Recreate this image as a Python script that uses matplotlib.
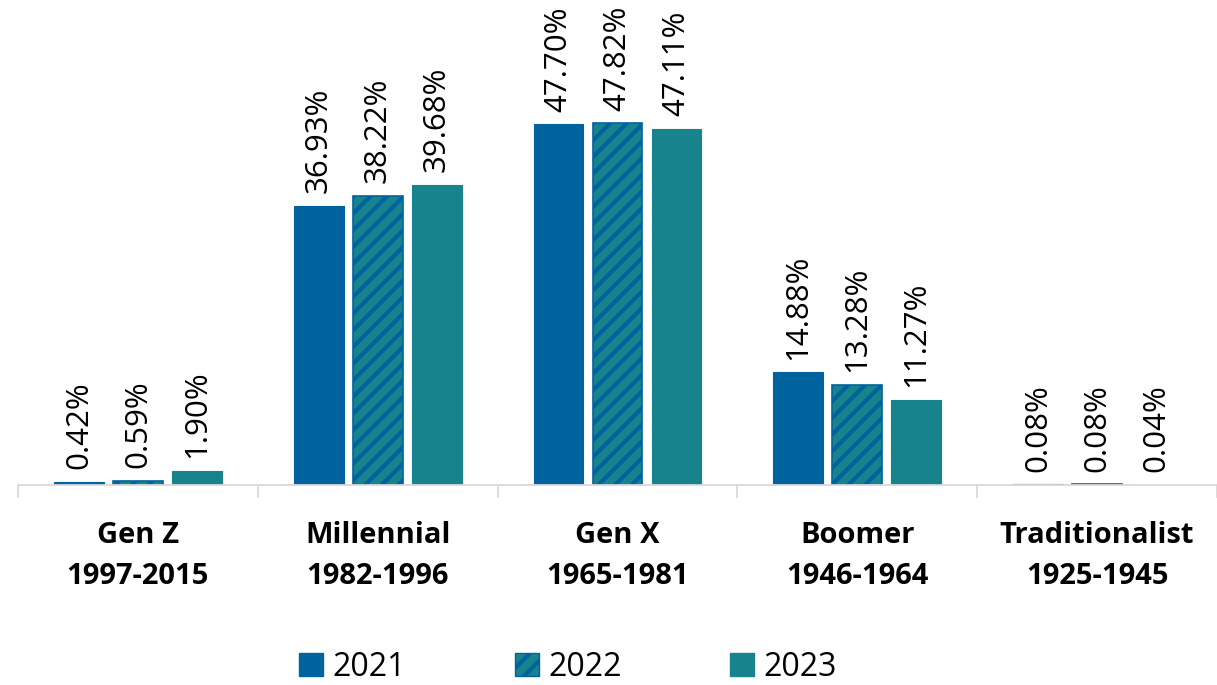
import numpy as np
import matplotlib.pyplot as plt
from matplotlib.patches import Patch

plt.rcParams['font.family'] = ['Open Sans', 'DejaVu Sans']
plt.rcParams['hatch.linewidth'] = 3.0

categories = ['Gen Z\n1997-2015', 'Millennial\n1982-1996', 'Gen X\n1965-1981',
              'Boomer\n1946-1964', 'Traditionalist\n1925-1945']
years = ['2021', '2022', '2023']
vals_2021 = [0.42, 36.93, 47.70, 14.88, 0.08]
vals_2022 = [0.59, 38.22, 47.82, 13.28, 0.08]
vals_2023 = [1.90, 39.68, 47.11, 11.27, 0.04]

blue = '#00639E'
teal = '#17838C'

fig = plt.figure(figsize=(12.17, 6.85), dpi=100)
ax = fig.add_axes([18 / 1217, 200 / 685, 1199 / 1217, 485 / 685])

x = np.arange(len(categories))
w = 0.208
off = 0.246

b1 = ax.bar(x - off, vals_2021, w, color=blue, edgecolor=blue, linewidth=0.8)
b2 = ax.bar(x, vals_2022, w, color=teal, edgecolor=blue, linewidth=1.2, hatch='//')
b3 = ax.bar(x + off, vals_2023, w, color=teal, edgecolor=teal, linewidth=0.8)

for bars, vals in [(b1, vals_2021), (b2, vals_2022), (b3, vals_2023)]:
    for rect, v in zip(bars, vals):
        ax.annotate(f'{v:.2f}%', (rect.get_x() + rect.get_width() / 2, rect.get_height()),
                    xytext=(0, 9), textcoords='offset points', rotation=90,
                    ha='center', va='bottom', fontsize=22.5, color='#000000')

ax.set_xlim(-0.5, 4.5)
ax.set_ylim(0, 64.1)
ax.set_yticks([])
for s in ['top', 'right', 'left']:
    ax.spines[s].set_visible(False)
ax.spines['bottom'].set_color('#D9D9D9')
ax.spines['bottom'].set_linewidth(1.3)

ax.set_xticks(x)
ax.set_xticklabels(categories, fontsize=21, fontweight='bold', linespacing=1.55)
ax.tick_params(axis='x', which='major', length=0, pad=26)
ax.set_xticks(np.arange(-0.5, 5, 1), minor=True)
ax.tick_params(axis='x', which='minor', length=9, color='#D9D9D9', width=1.3)

handles = [Patch(facecolor=blue, edgecolor=blue),
           Patch(facecolor=teal, edgecolor=blue, hatch='//'),
           Patch(facecolor=teal, edgecolor=teal)]
fig.legend(handles, years, loc='center', bbox_to_anchor=(568 / 1217, 1 - 667 / 685),
           ncol=3, frameon=False, fontsize=23, handlelength=0.75, handleheight=0.75,
           handletextpad=0.3, columnspacing=3.4)

fig.savefig('out.png', dpi=100)
